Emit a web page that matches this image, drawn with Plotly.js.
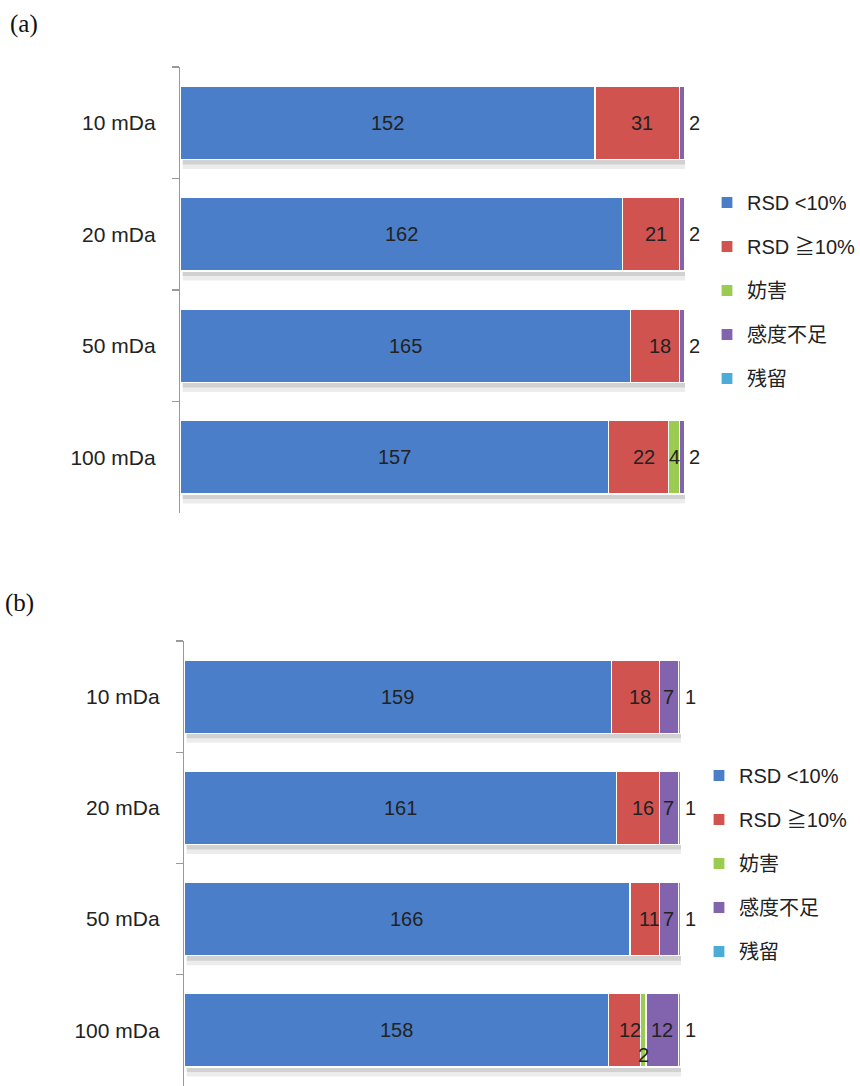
<!DOCTYPE html>
<html>
<head>
<meta charset="utf-8">
<script src="https://cdn.plot.ly/plotly-3.0.1.min.js"></script>
<style>html,body{margin:0;padding:0;background:#fff;}#chart{width:860px;height:1086px;}</style>
</head>
<body>
<div id="chart"></div>
<script>
// ---- data ----
var categories = ['10 mDa', '20 mDa', '50 mDa', '100 mDa'];
var seriesNames = ['RSD <10%', 'RSD ≧10%', '妨害', '感度不足', '残留'];
// panel (a)
var a_rsdLow  = [152, 162, 165, 157];
var a_rsdHigh = [31, 21, 18, 22];
var a_interf  = [0, 0, 0, 4];
var a_lowSens = [2, 2, 2, 2];
var a_carry   = [0, 0, 0, 0];
// panel (b)
var b_rsdLow  = [159, 161, 166, 158];
var b_rsdHigh = [18, 16, 11, 12];
var b_interf  = [0, 0, 0, 2];
var b_lowSens = [7, 7, 7, 12];
var b_carry   = [1, 1, 1, 1];
var panelLabels = ['(a)', '(b)'];

// ---- styling ----
var colors = ['#4a7ec8', '#d05350', '#9bcb50', '#8263ad', '#4cacd8'];
var FONT = 'Liberation Sans, Arial, Noto Sans CJK JP, sans-serif';
var W = 860, H = 1086;
var panels = [
  {series: [a_rsdLow, a_rsdHigh, a_interf, a_lowSens, a_carry],
   xax: 'x', yax: 'y', legend: 'legend',
   xdom: [180 / W, 685 / W], ydom: [1 - 513 / H, 1 - 67 / H],
   mode: ['c', 'c', 'c', 'r', 'r']},
  {series: [b_rsdLow, b_rsdHigh, b_interf, b_lowSens, b_carry],
   xax: 'x2', yax: 'y2', legend: 'legend2',
   xdom: [184 / W, 681 / W], ydom: [0, 1 - 641 / H],
   mode: ['c', 'c', 'below', 'c', 'r']}
];
var BARW = 0.66;

var traces = [], annotations = [], shapes = [];
panels.forEach(function (p, pi) {
  p.series.forEach(function (vals, si) {
    traces.push({
      type: 'bar', orientation: 'h',
      name: seriesNames[si], x: vals, y: categories,
      xaxis: p.xax, yaxis: p.yax, legend: p.legend,
      legendgroup: 'g' + pi + si,
      width: BARW,
      marker: {color: colors[si], line: {color: '#ffffff', width: 1.2}},
      hoverinfo: 'x+name'
    });
  });
  categories.forEach(function (cat, ci) {
    var total = 0;
    p.series.forEach(function (vals) { total += vals[ci]; });
    // soft shadow under each bar
    shapes.push({type: 'rect', xref: p.xax, yref: p.yax, layer: 'below',
      x0: 1, x1: total + 1.5, y0: ci + BARW / 2, y1: ci + BARW / 2 + 0.085,
      fillcolor: 'rgba(200,200,200,0.35)', line: {width: 0}});
    shapes.push({type: 'rect', xref: p.xax, yref: p.yax, layer: 'below',
      x0: 1, x1: total + 1, y0: ci + BARW / 2, y1: ci + BARW / 2 + 0.045,
      fillcolor: 'rgba(170,170,170,0.4)', line: {width: 0}});
    var start = 0;
    p.series.forEach(function (vals, si) {
      var v = vals[ci];
      if (v > 0) {
        var m = p.mode[si];
        var ann = {xref: p.xax, yref: p.yax, y: cat, text: String(v), showarrow: false,
          font: {family: FONT, size: 20, color: '#222'}};
        if (m === 'r') {
          ann.x = total; ann.xanchor = 'left'; ann.xshift = 2;
        } else if (m === 'below') {
          ann.x = start + v / 2; ann.yshift = -25;
        } else {
          ann.x = start + v / 2;
          if (si === 1) ann.xshift = 5;
        }
        annotations.push(ann);
      }
      start += v;
    });
  });
  annotations.push({xref: 'paper', yref: 'paper', x: pi === 0 ? 8 / W : 3 / W,
    y: pi === 0 ? 1 - 24 / H : 1 - 603 / H, xanchor: 'left', yanchor: 'middle',
    text: panelLabels[pi], showarrow: false,
    font: {family: 'Liberation Serif, Times New Roman, serif', size: 25, color: '#111'}});
});

function yAxis(dom) {
  return {domain: dom, type: 'category', autorange: false, range: [3.5, -0.5],
    showline: true, linecolor: '#999', linewidth: 1.2,
    ticks: 'outside', tickson: 'boundaries', ticklen: 7, tickcolor: '#999', tickwidth: 1.2,
    ticklabelstandoff: 19, showgrid: false, zeroline: false, fixedrange: true,
    tickfont: {family: FONT, size: 21, color: '#222'}};
}
function xAxis(dom, anchor) {
  return {domain: dom, range: [0, 185], visible: false, anchor: anchor, fixedrange: true};
}
function legendCfg(x, ytop) {
  return {x: x, y: ytop, xanchor: 'left', yanchor: 'top', traceorder: 'grouped',
    tracegroupgap: 15, bgcolor: 'rgba(0,0,0,0)',
    font: {family: FONT, size: 20, color: '#222'}};
}

var layout = {
  width: W, height: H, paper_bgcolor: '#ffffff', plot_bgcolor: '#ffffff',
  margin: {l: 0, r: 0, t: 0, b: 0, autoexpand: false},
  barmode: 'stack', showlegend: true,
  xaxis: xAxis(panels[0].xdom, 'y'), yaxis: yAxis(panels[0].ydom),
  xaxis2: xAxis(panels[1].xdom, 'y2'), yaxis2: yAxis(panels[1].ydom),
  legend: legendCfg(707 / W, 1 - 183 / H),
  legend2: legendCfg(699 / W, 1 - 756 / H),
  annotations: annotations, shapes: shapes
};
layout.yaxis2.anchor = 'x2';
layout.yaxis.anchor = 'x';

Plotly.newPlot('chart', traces, layout, {displayModeBar: false, staticPlot: true});
</script>
</body>
</html>
